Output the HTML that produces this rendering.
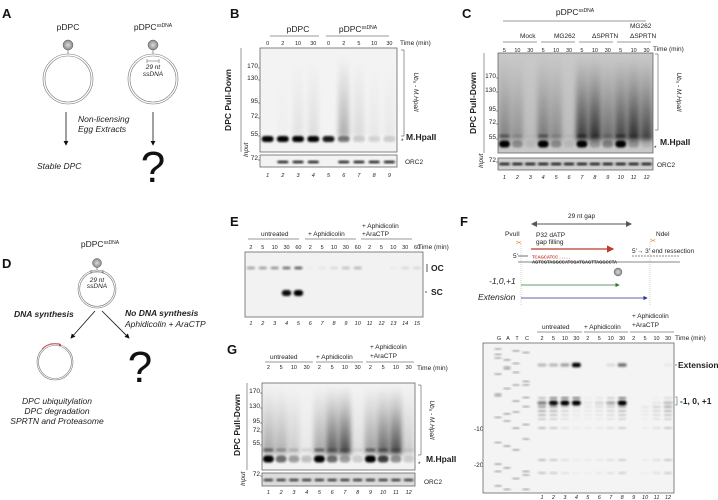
<!DOCTYPE html>
<html><head><meta charset="utf-8">
<style>
html,body{margin:0;padding:0;background:#fff;overflow:hidden;}
svg{display:block;font-family:"Liberation Sans",Arial,sans-serif;}
.t{font-size:6.5px;fill:#222;}
.i{font-style:italic;}
.L{font-size:13px;font-weight:bold;fill:#111;}
.h{font-size:8.5px;fill:#222;}
.b{font-weight:bold;}
</style></head>
<body>
<svg id="fig" width="718" height="500" viewBox="0 0 718 500">
<defs>
<filter id="blur1" x="-50%" y="-50%" width="200%" height="200%"><feGaussianBlur stdDeviation="1"/></filter>
<filter id="blur3" x="-50%" y="-20%" width="200%" height="140%"><feGaussianBlur stdDeviation="2.5"/></filter>
<radialGradient id="ball"><stop offset="0" stop-color="#ddd"/><stop offset="1" stop-color="#888"/></radialGradient>
<marker id="ah" markerWidth="6" markerHeight="6" refX="5" refY="3" orient="auto"><path d="M0,0 L6,3 L0,6z" fill="#111"/></marker>
<marker id="ahr" markerWidth="6" markerHeight="6" refX="5" refY="3" orient="auto"><path d="M0,0 L6,3 L0,6z" fill="#c0392b"/></marker>
<marker id="ahg" markerWidth="6" markerHeight="6" refX="5" refY="3" orient="auto"><path d="M0,0 L6,3 L0,6z" fill="#2e7d32"/></marker>
<marker id="ahb" markerWidth="6" markerHeight="6" refX="5" refY="3" orient="auto"><path d="M0,0 L6,3 L0,6z" fill="#283593"/></marker>
<marker id="ahgr" markerWidth="6" markerHeight="6" refX="5" refY="3" orient="auto"><path d="M0,0 L6,3 L0,6z" fill="#555"/></marker>
<marker id="ahgl" markerWidth="6" markerHeight="6" refX="1" refY="3" orient="auto"><path d="M6,0 L0,3 L6,6z" fill="#555"/></marker>
</defs>

<!-- Panel A -->
<g>
<text class="L" x="2" y="18">A</text>
<text class="h" x="68" y="30" text-anchor="middle">pDPC</text>
<text class="h" x="153" y="30" text-anchor="middle">pDPC<tspan font-size="5" dy="-3">ssDNA</tspan></text>
<circle cx="68" cy="45" r="5" fill="url(#ball)" stroke="#555" stroke-width="0.5"/>
<line x1="68" y1="50" x2="68" y2="54" stroke="#555" stroke-width="0.6"/>
<circle cx="68" cy="79" r="25" fill="none" stroke="#777" stroke-width="0.6"/>
<circle cx="68" cy="79" r="23" fill="none" stroke="#777" stroke-width="0.6"/>
<circle cx="153" cy="45" r="5" fill="url(#ball)" stroke="#555" stroke-width="0.5"/>
<line x1="153" y1="50" x2="153" y2="54" stroke="#555" stroke-width="0.6"/>
<circle cx="153" cy="79" r="25" fill="none" stroke="#777" stroke-width="0.6"/>
<circle cx="153" cy="79" r="23" fill="none" stroke="#777" stroke-width="0.6"/>
<path d="M147,61 h12 M147,59v4 M159,59v4" stroke="#555" stroke-width="0.5" fill="none"/>
<text class="t i" x="153" y="69" text-anchor="middle" font-size="5.5">29 nt</text>
<text class="t i" x="153" y="76" text-anchor="middle" font-size="5.5">ssDNA</text>
<line x1="66" y1="112" x2="66" y2="145" stroke="#111" stroke-width="0.8" marker-end="url(#ah)"/>
<line x1="153" y1="112" x2="153" y2="145" stroke="#111" stroke-width="0.8" marker-end="url(#ah)"/>
<text class="h i" x="78" y="122" font-size="7.5">Non-licensing</text>
<text class="h i" x="78" y="132" font-size="7.5">Egg Extracts</text>
<text class="h i" x="37" y="169" font-size="7.5">Stable DPC</text>
<text x="153" y="182" text-anchor="middle" font-size="44" fill="#111">?</text>
</g>

<!-- Panel D -->
<g>
<text class="L" x="2" y="268">D</text>
<text class="h" x="100" y="247" text-anchor="middle">pDPC<tspan font-size="5" dy="-3">ssDNA</tspan></text>
<circle cx="97" cy="263" r="4.5" fill="url(#ball)" stroke="#555" stroke-width="0.5"/>
<line x1="97" y1="267" x2="97" y2="270" stroke="#555" stroke-width="0.6"/>
<circle cx="97" cy="289" r="19" fill="none" stroke="#777" stroke-width="0.6"/>
<circle cx="97" cy="289" r="17.3" fill="none" stroke="#777" stroke-width="0.6"/>
<path d="M91,272 h12 M91,270v4 M103,270v4" stroke="#555" stroke-width="0.5" fill="none"/>
<text class="t i" x="97" y="282" text-anchor="middle" font-size="4.5">29 nt</text>
<text class="t i" x="97" y="288" text-anchor="middle" font-size="4.5">ssDNA</text>
<line x1="95" y1="311" x2="71" y2="338" stroke="#111" stroke-width="0.8" marker-end="url(#ah)"/>
<line x1="102" y1="311" x2="129" y2="338" stroke="#111" stroke-width="0.8" marker-end="url(#ah)"/>
<text class="h i b" x="14" y="317" font-size="7.5">DNA synthesis</text>
<text class="h i b" x="125" y="316" font-size="7.5">No DNA synthesis</text>
<text class="h i" x="125" y="327" font-size="7.5">Aphidicolin + AraCTP</text>
<circle cx="55" cy="362" r="18" fill="none" stroke="#777" stroke-width="0.6"/>
<circle cx="55" cy="362" r="16.5" fill="none" stroke="#777" stroke-width="0.6"/>
<path d="M42,349 A18,18 0 0 1 60,344" stroke="#e53935" stroke-width="0.7" fill="none"/>
<circle cx="60" cy="345" r="1" fill="#c62828"/>
<text x="140" y="382" text-anchor="middle" font-size="44" fill="#111">?</text>
<text class="h i" x="57" y="404" text-anchor="middle" font-size="7.5">DPC ubiquitylation</text>
<text class="h i" x="57" y="414" text-anchor="middle" font-size="7.5">DPC degradation</text>
<text class="h i" x="57" y="424" text-anchor="middle" font-size="7.5">SPRTN and Proteasome</text>
</g>

<!-- Panel B static -->
<g>
<text class="L" x="230" y="18">B</text>
<text class="h" x="298" y="32" text-anchor="middle">pDPC</text>
<line x1="270" y1="36" x2="319" y2="36" stroke="#333" stroke-width="0.5"/>
<text class="h" x="358" y="32" text-anchor="middle">pDPC<tspan font-size="5" dy="-3">ssDNA</tspan></text>
<line x1="326" y1="36" x2="389" y2="36" stroke="#333" stroke-width="0.5"/>
<text class="t" x="400" y="45" font-size="5.5">Time (min)</text>
<text class="h b" x="231" y="100" transform="rotate(-90 231 100)" text-anchor="middle" font-size="7.5">DPC Pull-Down</text>
<line x1="241" y1="48" x2="241" y2="152" stroke="#333" stroke-width="0.5"/>
<text class="t i" x="252" y="161" transform="rotate(-90 248 161)" font-size="5">Input</text>
<path d="M401,50 h3 v86 h-3" stroke="#333" stroke-width="0.5" fill="none"/>
<text class="t i" x="414" y="92" transform="rotate(90 414 92)" text-anchor="middle" font-size="6">Ub<tspan font-size="4.5" dy="1">n</tspan><tspan dy="-1"> - M.HpaII</tspan></text>
<text class="h b" x="406" y="140" font-size="7.5">M.HpaII</text>
<text class="t" x="401" y="143">*</text>
<text class="t" x="405" y="164">ORC2</text>
</g>

<!-- Panel C static -->
<g>
<text class="L" x="462" y="18">C</text>
<text class="h" x="575" y="15" text-anchor="middle">pDPC<tspan font-size="5" dy="-3">ssDNA</tspan></text>
<line x1="503" y1="21" x2="646" y2="21" stroke="#333" stroke-width="0.5"/>
<text class="t" x="630" y="28" font-size="6">MG262</text>
<text class="t" x="520" y="38" font-size="6.5">Mock</text>
<text class="t" x="554" y="38" font-size="6.5">MG262</text>
<text class="t" x="592" y="38" font-size="6.5">ΔSPRTN</text>
<text class="t" x="630" y="38" font-size="6.5">ΔSPRTN</text>
<line x1="503" y1="42" x2="537" y2="42" stroke="#333" stroke-width="0.5"/>
<line x1="541" y1="42" x2="575" y2="42" stroke="#333" stroke-width="0.5"/>
<line x1="579" y1="42" x2="613" y2="42" stroke="#333" stroke-width="0.5"/>
<line x1="617" y1="42" x2="651" y2="42" stroke="#333" stroke-width="0.5"/>
<text class="t" x="653" y="51" font-size="5.5">Time (min)</text>
<text class="h b" x="476" y="103" transform="rotate(-90 476 103)" text-anchor="middle" font-size="8">DPC Pull-Down</text>
<line x1="484" y1="53" x2="484" y2="153" stroke="#333" stroke-width="0.5"/>
<text class="t i" x="483" y="168" transform="rotate(-90 483 168)" font-size="5">Input</text>
<path d="M655,54 h3 v76 h-3" stroke="#333" stroke-width="0.5" fill="none"/>
<text class="t i" x="677" y="92" transform="rotate(90 677 92)" text-anchor="middle" font-size="6">Ub<tspan font-size="4.5" dy="1">n</tspan><tspan dy="-1"> - M.HpaII</tspan></text>
<text class="h b" x="660" y="145" font-size="8">M.HpaII</text>
<text class="t" x="654" y="150">*</text>
<text class="t" x="657" y="167">ORC2</text>
</g>

<!-- Panel E static -->
<g>
<text class="L" x="230" y="226">E</text>
<text class="t" x="261" y="236" font-size="6.5">untreated</text>
<line x1="248" y1="239" x2="299" y2="239" stroke="#333" stroke-width="0.5"/>
<text class="t" x="308" y="236" font-size="6.5">+ Aphidicolin</text>
<line x1="305" y1="239" x2="356" y2="239" stroke="#333" stroke-width="0.5"/>
<text class="t" x="362" y="228" font-size="6.5">+ Aphidicolin</text>
<text class="t" x="362" y="236" font-size="6.5">+AraCTP</text>
<line x1="361" y1="239" x2="412" y2="239" stroke="#333" stroke-width="0.5"/>
<text class="t" x="418" y="249" font-size="5.5">Time (min)</text>
<line x1="427" y1="264" x2="427" y2="272" stroke="#111" stroke-width="0.7"/>
<text class="h b" x="431" y="271" font-size="7.5">OC</text>
<line x1="425" y1="292" x2="427" y2="292" stroke="#111" stroke-width="0.7"/>
<text class="h b" x="431" y="295" font-size="7.5">SC</text>
</g>

<!-- Panel G static -->
<g>
<text class="L" x="227" y="354">G</text>
<text class="t" x="270" y="359" font-size="6.5">untreated</text>
<line x1="265" y1="362" x2="313" y2="362" stroke="#333" stroke-width="0.5"/>
<text class="t" x="316" y="359" font-size="6.5">+ Aphidicolin</text>
<line x1="316" y1="362" x2="363" y2="362" stroke="#333" stroke-width="0.5"/>
<text class="t" x="370" y="349" font-size="6.5">+ Aphidicolin</text>
<text class="t" x="370" y="358" font-size="6.5">+AraCTP</text>
<line x1="366" y1="362" x2="414" y2="362" stroke="#333" stroke-width="0.5"/>
<text class="t" x="417" y="370" font-size="5.5">Time (min)</text>
<text class="h b" x="240" y="425" transform="rotate(-90 240 425)" text-anchor="middle" font-size="8">DPC Pull-Down</text>
<line x1="247" y1="383" x2="247" y2="470" stroke="#333" stroke-width="0.5"/>
<text class="t i" x="245" y="486" transform="rotate(-90 245 486)" font-size="5">Input</text>
<path d="M418,385 h3 v70 h-3" stroke="#333" stroke-width="0.5" fill="none"/>
<text class="t i" x="430" y="420" transform="rotate(90 430 420)" text-anchor="middle" font-size="6">Ub<tspan font-size="4.5" dy="1">n</tspan><tspan dy="-1"> - M.HpaII</tspan></text>
<text class="h b" x="426" y="462" font-size="8">M.HpaII</text>
<text class="t" x="418" y="466">*</text>
<text class="t" x="424" y="484">ORC2</text>
</g>

<!-- Panel F static -->
<g>
<text class="L" x="460" y="226">F</text>
<text class="t" x="568" y="218" font-size="6">29 nt gap</text>
<line x1="532" y1="224" x2="631" y2="224" stroke="#555" stroke-width="1" marker-end="url(#ahgr)" marker-start="url(#ahgl)"/>
<text class="t" x="505" y="236" font-size="6.5">PvuII</text>
<text x="516" y="245" font-size="7" fill="#e67e22">✂</text>
<text class="t" x="656" y="236" font-size="6.5">NdeI</text>
<text x="650" y="243" font-size="7" fill="#e67e22">✂</text>
<text class="t" x="536" y="237" font-size="5" fill="#555">P32 dATP</text>
<text class="t" x="536" y="244" font-size="5" fill="#555">gap filling</text>
<line x1="531" y1="249" x2="613" y2="249" stroke="#c0392b" stroke-width="1.2" marker-end="url(#ahr)"/>
<text class="t" x="632" y="253" font-size="5">5'→ 3' end ressection</text>
<line x1="632" y1="256" x2="680" y2="256" stroke="#111" stroke-width="0.5" stroke-dasharray="2,1"/>
<text class="t" x="513" y="258" font-size="4">5'</text>
<line x1="518" y1="256" x2="528" y2="256" stroke="#111" stroke-width="0.6"/>
<text x="532" y="258.5" font-size="4.2" font-weight="bold" fill="#c0392b">TCAGCATCC . . . . .</text>
<line x1="518" y1="262" x2="680" y2="262" stroke="#111" stroke-width="0.6"/>
<text x="532" y="263.5" font-size="4.2" font-weight="bold" fill="#222">AGTCGTAGGCCATCGATGAGTTAGGCCTA</text>
<circle cx="618" cy="272" r="4" fill="url(#ball)" stroke="#555" stroke-width="0.4"/>
<line x1="521" y1="244" x2="521" y2="305" stroke="#888" stroke-width="0.4" stroke-dasharray="1,1"/>
<line x1="650" y1="242" x2="650" y2="305" stroke="#888" stroke-width="0.4" stroke-dasharray="1,1"/>
<text class="h i" x="489" y="284" font-size="7.5">-1,0,+1</text>
<line x1="521" y1="285" x2="619" y2="285" stroke="#2e7d32" stroke-width="0.7" marker-end="url(#ahg)"/>
<text class="h i" x="478" y="300" font-size="7.5">Extension</text>
<line x1="521" y1="298" x2="647" y2="298" stroke="#283593" stroke-width="0.7" marker-end="url(#ahb)"/>
<text class="t" x="542" y="329" font-size="6.5">untreated</text>
<line x1="537" y1="332" x2="582" y2="332" stroke="#333" stroke-width="0.5"/>
<text class="t" x="584" y="329" font-size="6.5">+ Aphidicolin</text>
<line x1="584" y1="332" x2="628" y2="332" stroke="#333" stroke-width="0.5"/>
<text class="t" x="632" y="318" font-size="6.5">+ Aphidicolin</text>
<text class="t" x="632" y="327" font-size="6.5">+AraCTP</text>
<line x1="630" y1="332" x2="674" y2="332" stroke="#333" stroke-width="0.5"/>
<text class="t" x="675" y="340" font-size="5.5">Time (min)</text>
<text class="h b" x="678" y="368" font-size="8">Extension</text>
<line x1="675" y1="365" x2="677" y2="365" stroke="#111" stroke-width="0.5"/>
<path d="M675,397 h2 v8 h-2" stroke="#2e7d32" stroke-width="0.6" fill="none"/>
<text class="h b" x="680" y="404" font-size="8">-1, 0, +1</text>
<text class="t" x="474" y="431">-10</text>
<text class="t" x="474" y="467">-20</text>
</g>

<g id="dyn"></g>
</svg>

<script>
// ---- Data ----
var bMain = [1, 1, 1, 1, 0.9, 0.5, 0.15, 0.12, 0.15];
var bSmear = [0, 0.02, 0.08, 0.1, 0, 0.35, 0.12, 0.05, 0.05];
var bInput = [0, 1, 1, 1, 0, 1, 1, 1, 1];
var bTimeLabels = ["0","2","10","30","0","2","5","10","30"];

var cTimeLabels = ["5","10","30","5","10","30","5","10","30","5","10","30"];
var cMain = [1, 0.3, 0.08, 1, 0.3, 0.08, 1, 0.25, 0.35, 1, 0.25, 0.1];
var cSmear = [0.45, 0.35, 0.08, 0.5, 0.4, 0.08, 0.9, 1, 0.6, 0.85, 1, 0.85];
var cInput = [1,1,1,1,1,1,1,1,1,1,1,1];

var eTimeLabels = ["2","5","10","30","60","2","5","10","30","60","2","5","10","30","60"];
var eOC = [0.35, 0.35, 0.4, 0.55, 0.65, 0.02, 0.05, 0.1, 0.2, 0.25, 0, 0, 0.03, 0.1, 0.1];
var eSC = [0, 0, 0, 0.95, 1, 0, 0, 0, 0, 0, 0, 0, 0, 0, 0];

var gTimeLabels = ["2","5","10","30","2","5","10","30","2","5","10","30"];
var gMain = [1, 0.55, 0.35, 0.2, 1, 0.55, 0.35, 0.15, 1, 0.75, 0.4, 0.15];
var gSmear = [0.4, 0.35, 0.2, 0.05, 0.4, 0.8, 0.9, 0.1, 0.45, 0.75, 0.9, 0.2];
var gInput = [1,1,1,1,1,1,1,1,1,1,1,1];

var fTimeLabels = ["2","5","10","30","2","5","10","30","2","5","10","30"];
var fExt = [0.25, 0.25, 0.35, 1, 0, 0, 0.1, 0.55, 0, 0, 0, 0.05];
var fMain = [0.45, 0.95, 1, 1, 0.05, 0.12, 0.3, 1, 0, 0, 0.05, 0.2];
var fShort = [0.6, 0.5, 0.25, 0.1, 0.1, 0.15, 0.25, 0.45, 0, 0.1, 0.25, 0.5];
// ladder band positions in nt relative to main product (positive = above)
var ladderG = [15, 13.5, 12.5, 8, 2.5, 2, -4, -11, -17, -19, -23];
var ladderA = [12, 10, 9.5, 4, -3, -5, -12, -18, -24];
var ladderT = [14.5, 11, 8.5, 5, 0.5, -2.5, -7, -13, -21, -26];
var ladderC = [14, 6, 5, 1.5, -1, -6, -10, -19, -20, -24];
var markerB = [["170",66],["130",78],["95",101],["72",116],["55",134]];
var markerC = [["170",76],["130",90],["95",109],["72",122],["55",137]];
var markerG = [["170",391],["130",406],["95",421],["72",430],["55",443]];

var NS = "http://www.w3.org/2000/svg";
var root = document.getElementById("dyn");
function mk(tag, attrs, parent) {
  var e = document.createElementNS(NS, tag);
  for (var k in attrs) e.setAttribute(k, attrs[k]);
  (parent || root).appendChild(e);
  return e;
}
function txt(x, y, s, size, anchor, parent, italic) {
  var t = mk("text", {x: x, y: y, "font-size": size, "text-anchor": anchor || "middle", fill: "#222"}, parent);
  if (italic) t.setAttribute("font-style", "italic");
  t.textContent = s;
  return t;
}
function laneX(x0, x1, n) { var w = (x1 - x0) / n; return function(i){ return x0 + w * (i + 0.5); }; }

function gel(name, x0, y0, x1, y1, bg) {
  var g = mk("g", {});
  
  
  var r = mk("rect", {x: x0, y: y0, width: x1 - x0, height: y1 - y0, fill: bg, stroke: "#666", "stroke-width": 0.8}, g);
  
  
  var cp = mk("clipPath", {id: "clip-" + name}, g);
  mk("rect", {x: x0, y: y0, width: x1 - x0, height: y1 - y0}, cp);
  var inner = mk("g", {"clip-path": "url(#clip-" + name + ")"}, g);
  
  
  return inner;
}
function band(g, cx, cy, w, h, v, blur) {
  if (v <= 0) return;
  var b = mk("rect", {x: cx - w/2, y: cy - h/2, width: w, height: h, rx: h/2, fill: "#000", opacity: Math.min(1, v), filter: "url(#" + (blur || "blur1") + ")"}, g);
  
  
}
function smear(g, cx, top, bottom, w, v) {
  if (v <= 0) return;
  var sg = mk("g", {filter: "url(#blur3)", opacity: Math.min(1, v)}, g);
  
  
  var N = 16, hh = (bottom - top) / N;
  for (var k = 0; k < N; k++) {
    var f = (k + 1) / N; // 1 at bottom
    var a = Math.pow(f, 1.3) * 0.75;
    mk("rect", {x: cx - w/2, y: top + k * hh, width: w, height: hh + 0.5, fill: "#000", opacity: a}, sg);
  }
}
function markers(g, xr, list) {
  list.forEach(function(m){
    var t = txt(xr - 2, m[1] + 2, m[0], 6.5, "end", root);
    
    
    mk("line", {x1: xr - 2, y1: m[1] + 2, x2: xr, y2: m[1] + 2, stroke: "#333", "stroke-width": 0.5}, root);
  });
}
function labels(lx, n, yTime, times, yNum) {
  for (var i = 0; i < n; i++) {
    if (times) {
      var t = txt(lx(i), yTime, times[i], 5.5, "middle", root);
      
      
    }
    var l = txt(lx(i), yNum, String(i + 1), 5.5, "middle", root, true);
    
    
  }
}

// ---- Gel B ----
(function(){
  var x0 = 260, x1 = 397, n = bMain.length, lx = laneX(x0, x1, n);
  var g = gel("gel-b", x0, 48, x1, 152, "#f3f3f3");
  for (var i = 0; i < n; i++) {
    smear(g, lx(i), 55, 136, 11, bSmear[i]);
    band(g, lx(i), 139, 12, 6, bMain[i]);
  }
  markers(g, x0, markerB);
  var gi = gel("gel-b-input", x0, 155, x1, 167, "#f3f3f3");
  for (var j = 0; j < n; j++) band(gi, lx(j), 162, 11, 2.5, bInput[j] * 0.9);
  markers(gi, x0, [["72",158]]);
  labels(lx, n, 45, bTimeLabels, 177);
})();

// ---- Gel C ----
(function(){
  var x0 = 498, x1 = 653, n = cMain.length, lx = laneX(x0, x1, n);
  var g = gel("gel-c", x0, 53, x1, 153, "#c8c8c8");
  for (var i = 0; i < n; i++) {
    smear(g, lx(i), 56, 140, 12, cSmear[i]);
    band(g, lx(i), 144, 11, 7, cMain[i]);
    band(g, lx(i), 136, 10, 3, cMain[i] * 0.4);
  }
  markers(g, x0, markerC);
  var gi = gel("gel-c-input", x0, 158, x1, 170, "#cfcfcf");
  for (var j = 0; j < n; j++) band(gi, lx(j), 164, 10.5, 2.5, cInput[j] * 0.9);
  markers(gi, x0, [["72",160]]);
  labels(lx, n, 52, cTimeLabels, 179);
})();

// ---- Gel E ----
(function(){
  var x0 = 245, x1 = 423, n = eOC.length, lx = laneX(x0, x1, n);
  var g = gel("gel-e", x0, 252, x1, 317, "#f2f2f2");
  for (var i = 0; i < n; i++) {
    band(g, lx(i), 268, 8, 2.6, eOC[i]);
    band(g, lx(i), 293, 9.5, 6, eSC[i]);
  }
  labels(lx, n, 249, eTimeLabels, 325);
})();

// ---- Gel G ----
(function(){
  var x0 = 262, x1 = 415, n = gMain.length, lx = laneX(x0, x1, n);
  var g = gel("gel-g", x0, 383, x1, 470, "#f2f2f2");
  for (var i = 0; i < n; i++) {
    smear(g, lx(i), 386, 454, 12, gSmear[i]);
    band(g, lx(i), 459, 11, 7, gMain[i]);
    band(g, lx(i), 450, 10, 3, gMain[i] * 0.45);
  }
  markers(g, x0, markerG);
  var gi = gel("gel-g-input", x0, 473, x1, 486, "#dcdcdc");
  for (var j = 0; j < n; j++) band(gi, lx(j), 480, 9.5, 2.5, gInput[j] * 0.75);
  markers(gi, x0, [["72",474]]);
  labels(lx, n, 369, gTimeLabels, 494);
})();

// ---- Gel F ----
(function(){
  var x0 = 483, x1 = 674;
  var g = gel("gel-f", x0, 343, x1, 493, "#f4f4f4");
  var ladders = [ladderG, ladderA, ladderT, ladderC];
  var ladX = [498, 507, 516, 526], ladNames = ["G","A","T","C"];
  var yMain = 403, step = 3.6;
  for (var k = 0; k < 4; k++) {
    var lt = txt(ladX[k] + 1, 340, ladNames[k], 5.5, "middle", root);
    
    
    ladders[k].forEach(function(p){ band(g, ladX[k], yMain - p * step, 7, 1.3, 0.45); });
  }
  var lx = function(i){ return 542 + i * (668 - 542) / 11; };
  for (var i = 0; i < fMain.length; i++) {
    band(g, lx(i), 365, 9, 2.5 + fExt[i] * 2, fExt[i]);
    band(g, lx(i), yMain, 9, 3 + fMain[i] * 2, fMain[i]);
    band(g, lx(i), yMain - 5, 8, 2, fMain[i] * 0.5);
    for (var s = 1; s <= 4; s++) band(g, lx(i), yMain + s * 4, 8, 1.6, fShort[i] * (1 - s * 0.15));
    band(g, lx(i), 428, 8, 1.6, fShort[i] * 0.5);
    band(g, lx(i), 460, 8, 1.6, fShort[i] * 0.5);
    band(g, lx(i), 473, 8, 1.6, fShort[i] * 0.45);
  }
  for (var j = 0; j < 12; j++) {
    var t = txt(lx(j), 340, fTimeLabels[j], 5.5, "middle", root);
    
    
    var l = txt(lx(j), 499, String(j + 1), 5.5, "middle", root, true);
    
    
  }
})();
</script>
</body></html>
